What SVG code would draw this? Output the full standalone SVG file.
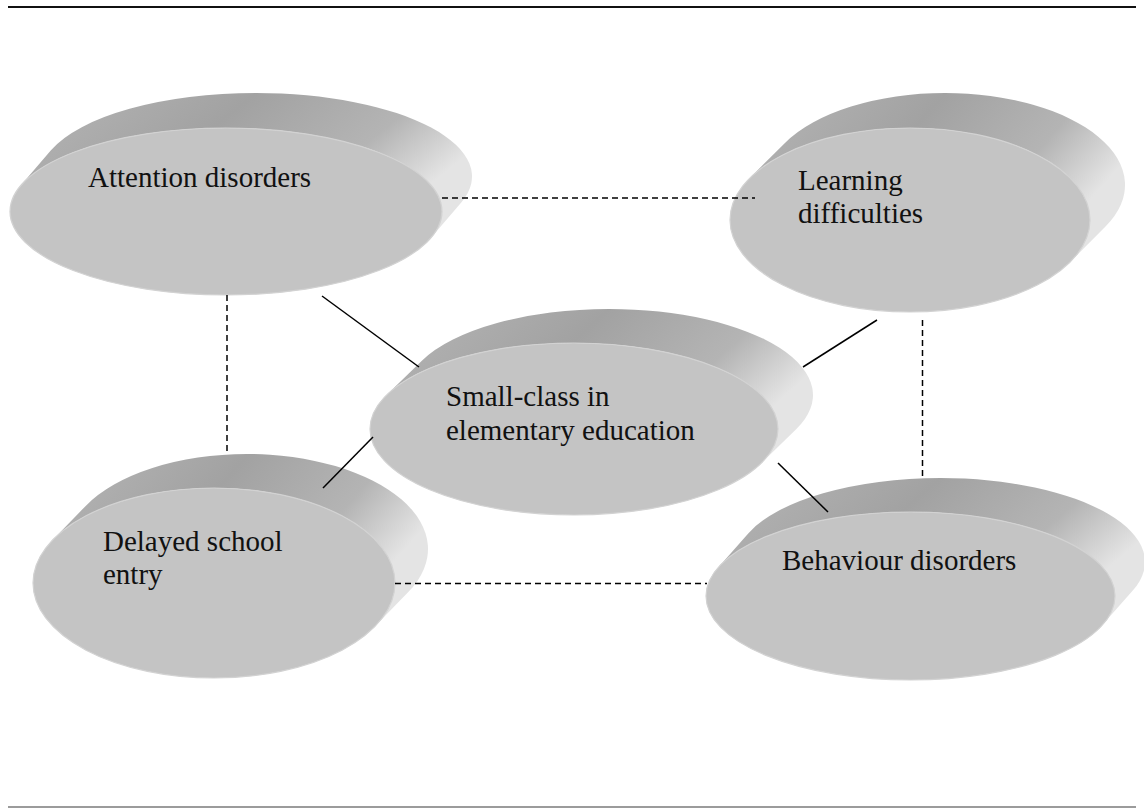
<svg xmlns="http://www.w3.org/2000/svg" width="1144" height="809" viewBox="0 0 1144 809">
  <defs>
    <linearGradient id="side" x1="0" y1="0" x2="1" y2="0.4">
      <stop offset="0" stop-color="#b6b6b6"/>
      <stop offset="0.45" stop-color="#a2a2a2"/>
      <stop offset="0.78" stop-color="#b4b4b4"/>
      <stop offset="1" stop-color="#e4e4e4"/>
    </linearGradient>
  </defs>
  <style>
    .side { fill: url(#side); stroke: none; }
    .face { fill: #c4c4c4; stroke: #d2d2d2; stroke-width: 1.2; }
    .lbl { font-family: "Liberation Serif", "Times New Roman", serif; font-size: 29px; fill: #111; }
    .dash { stroke: #000; stroke-width: 1.5; stroke-dasharray: 6 4; fill: none; }
    .solid { stroke: #000; stroke-width: 1.5; fill: none; }
  </style>
  <rect width="1144" height="809" fill="#fff"/>
  <line x1="8" y1="7" x2="1136" y2="7" stroke="#111" stroke-width="1.8"/>
  <line x1="8" y1="807" x2="1136" y2="807" stroke="#7a7a7a" stroke-width="1.5"/>

  <g id="node-attention">
    <path class="side" d="M 20.95 185.24 L 50.95 150.24 A 216 83.5 0 0 1 256 93 A 216 83.5 0 0 1 461.05 202.76 L 431.05 237.76 A 216 83.5 0 0 0 226 128 A 216 83.5 0 0 0 20.95 185.24 Z"/>
    <ellipse class="face" cx="226" cy="211.5" rx="216" ry="83.5"/>
    <text class="lbl" x="88" y="187">Attention disorders</text>
  </g>

  <g id="node-learning">
    <path class="side" d="M 749.71 178.13 L 784.71 143.13 A 180 92 0 0 1 945 93 A 180 92 0 0 1 1105.29 226.87 L 1070.29 261.87 A 180 92 0 0 0 910 128 A 180 92 0 0 0 749.71 178.13 Z"/>
    <ellipse class="face" cx="910" cy="220" rx="180" ry="92"/>
    <text class="lbl" x="798" y="190">Learning</text>
    <text class="lbl" x="798" y="223">difficulties</text>
  </g>

  <g id="node-delayed">
    <path class="side" d="M 52.71 539.88 L 85.71 505.88 A 181 95 0 0 1 247 454 A 181 95 0 0 1 408.29 592.12 L 375.29 626.12 A 181 95 0 0 0 214 488 A 181 95 0 0 0 52.71 539.88 Z"/>
    <ellipse class="face" cx="214" cy="583" rx="181" ry="95"/>
    <text class="lbl" x="103" y="551">Delayed school</text>
    <text class="lbl" x="103" y="584">entry</text>
  </g>

  <g id="node-behaviour">
    <path class="side" d="M 718.23 567.38 L 748.23 533.38 A 204.5 84 0 0 1 940.5 478 A 204.5 84 0 0 1 1132.77 590.62 L 1102.77 624.62 A 204.5 84 0 0 0 910.5 512 A 204.5 84 0 0 0 718.23 567.38 Z"/>
    <ellipse class="face" cx="910.5" cy="596" rx="204.5" ry="84"/>
    <text class="lbl" x="782" y="570">Behaviour disorders</text>
  </g>

  <g id="node-center">
    <path class="side" d="M 386.87 394.76 L 421.87 360.76 A 204 86 0 0 1 609 309 A 204 86 0 0 1 796.13 429.24 L 761.13 463.24 A 204 86 0 0 0 574 343 A 204 86 0 0 0 386.87 394.76 Z"/>
    <ellipse class="face" cx="574" cy="429" rx="204" ry="86"/>
    <text class="lbl" x="446" y="406">Small-class in</text>
    <text class="lbl" x="446" y="440">elementary education</text>
  </g>

  <g id="connectors">
    <line class="dash" x1="442" y1="198" x2="755" y2="198"/>
    <line class="dash" x1="227" y1="295" x2="227" y2="455"/>
    <line class="dash" x1="922.5" y1="320" x2="922.5" y2="479"/>
    <line class="dash" x1="395" y1="583.5" x2="707" y2="583.5"/>
    <line class="solid" x1="322" y1="296" x2="419" y2="367"/>
    <line class="solid" x1="803" y1="367" x2="877" y2="320"/>
    <line class="solid" x1="373" y1="437" x2="323" y2="488"/>
    <line class="solid" x1="778" y1="463" x2="828" y2="512"/>
  </g>
</svg>
